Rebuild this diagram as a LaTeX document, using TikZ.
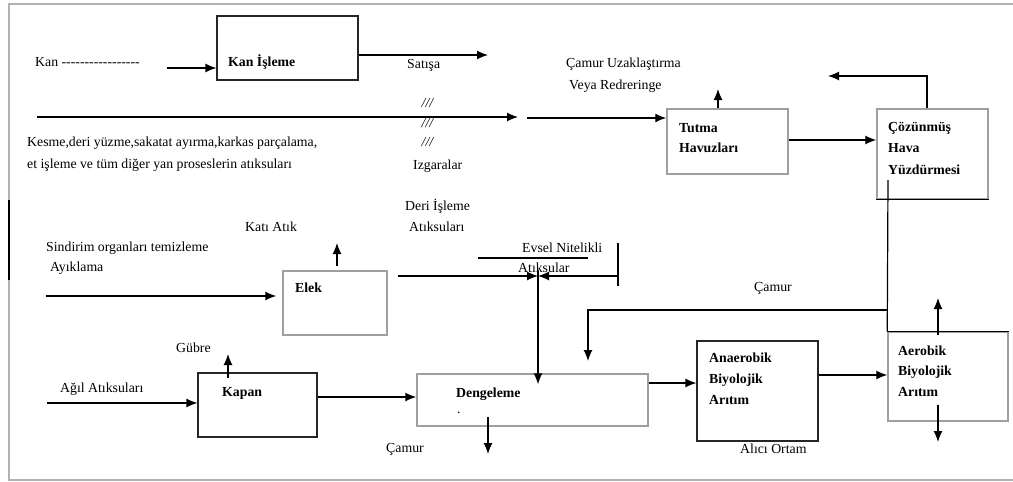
\documentclass[tikz,border=0pt]{standalone}
\usepackage{fontspec}
\setmainfont{Liberation Serif}
\usetikzlibrary{arrows.meta}
\begin{document}
\begin{tikzpicture}[x=1pt,y=-1pt,
  arr/.style={line width=1.2pt,-{Latex[length=11pt,width=9pt]}},
  ln/.style={line width=1.2pt},
  dbox/.style={draw=black!85,line width=1.2pt,inner sep=0pt},
  gbox/.style={draw=gray!75,line width=1.5pt,inner sep=0pt},
  txt/.style={anchor=west,inner sep=0pt,font=\fontsize{13.8}{16}\selectfont},
  btxt/.style={anchor=west,inner sep=0pt,font=\fontsize{13.8}{16}\selectfont\bfseries},
  frame/.style={draw=gray!60,line width=2pt}]
\useasboundingbox (0,0) rectangle (1013,482);
% frame
\draw[frame] (1013,4) -- (9,4) -- (9,480) -- (1013,480);
\draw[line width=1.2pt] (9,200) -- (9,280);
% boxes
\node[dbox,minimum width=141pt,minimum height=64pt] (kanb) at (287.5,48) {};
\node[gbox,minimum width=121pt,minimum height=65pt] (tutma) at (727.5,141.5) {};
\node[gbox,minimum width=111pt,minimum height=90pt] (cozun) at (932.5,154) {};
\node[gbox,minimum width=104pt,minimum height=64pt] (elek) at (335,303) {};
\node[dbox,minimum width=119pt,minimum height=64pt] (kapan) at (257.5,405) {};
\node[gbox,minimum width=231pt,minimum height=52pt] (deng) at (532.5,400) {};
\node[dbox,minimum width=121pt,minimum height=100pt] (anae) at (757.5,391) {};
\node[gbox,minimum width=120pt,minimum height=89pt] (aero) at (948,376.5) {};
\draw[ln] (cozun.south west) -- (cozun.south east);
\draw[ln] (aero.north west) -- (aero.north east);
% texts
\node[txt] (tkan) at (35,62) {Kan -{}-{}-{}-{}-{}-{}-{}-{}-{}-{}-{}-{}-{}-{}-{}-{}-};
\node[btxt] (tkanb) at (228,62) {Kan İşleme};
\node[txt] (tsat) at (407,65) {Satışa};
\node[txt,anchor=center] (s1) at (428,103) {\textit{///}};
\node[txt,anchor=center] (s2) at (428,123) {\textit{///}};
\node[txt,anchor=center] (s3) at (428,142) {\textit{///}};
\node[txt] (tizg) at (413,166) {Izgaralar};
\node[txt] (tkes1) at (27,143) {Kesme,deri yüzme,sakatat ayırma,karkas parçalama,};
\node[txt] (tkes2) at (27,165) {et işleme ve tüm diğer yan proseslerin atıksuları};
\node[txt] (tcam1) at (566,64) {Çamur Uzaklaştırma};
\node[txt] (tcam2) at (569,86) {Veya Redreringe};
\node[btxt] (ttut1) at (679,128) {Tutma};
\node[btxt] (ttut2) at (679,148) {Havuzları};
\node[btxt] (tcoz1) at (888,128) {Çözünmüş};
\node[btxt] (tcoz2) at (888,148) {Hava};
\node[btxt] (tcoz3) at (888,170) {Yüzdürmesi};
\node[txt] (tderi1) at (405,206) {Deri İşleme};
\node[txt] (tderi2) at (409,227) {Atıksuları};
\node[txt] (tkati) at (245,227) {Katı Atık};
\node[txt] (tsin1) at (46,248) {Sindirim organları temizleme};
\node[txt] (tsin2) at (50,268) {Ayıklama};
\node[btxt] (telek) at (295,288) {Elek};
\node[txt] (tevs1) at (522,248) {Evsel Nitelikli};
\node[txt] (tevs2) at (518,268) {Atıksular};
\node[txt] (tcamr) at (754,288) {Çamur};
\node[txt] (tgub) at (176,348) {Gübre};
\node[txt] (tagil) at (60,389) {Ağıl Atıksuları};
\node[btxt] (tkap) at (222,393) {Kapan};
\node[btxt] (tden) at (456,394) {Dengeleme};
\node[txt] (tdot) at (457,413) {.};
\node[txt] (tcamd) at (386,449) {Çamur};
\node[btxt] (tan1) at (709,358) {Anaerobik};
\node[btxt] (tan2) at (709,380) {Biyolojik};
\node[btxt] (tan3) at (709,400) {Arıtım};
\node[btxt] (tae1) at (898,351) {Aerobik};
\node[btxt] (tae2) at (898,372) {Biyolojik};
\node[btxt] (tae3) at (898,392) {Arıtım};
\node[txt] (talici) at (740,449) {Alıcı Ortam};
% coordinates
\coordinate (kanin) at (167,68);
\coordinate (satis) at (488,55);
\coordinate (k1) at (37,117);
\coordinate (k2) at (518,117);
\coordinate (k3) at (527,118);
\coordinate (tup) at (718,89);
\coordinate (ty) at (0,140);
\coordinate (cup) at (927,76);
\coordinate (cleft) at (828,76);
\coordinate (cz1) at (888,180);
\coordinate (cz2) at (888,310);
\coordinate (cz3) at (588,361);
\coordinate (ayin) at (46,296);
\coordinate (katup) at (337,243);
\coordinate (ey) at (0,276);
\coordinate (jn) at (538,276);
\coordinate (ev) at (618,276);
\coordinate (evt) at (618,243);
\coordinate (evb) at (618,286);
\coordinate (u1) at (478,258);
\coordinate (u2) at (588,258);
\coordinate (vtop) at (538,270);
\coordinate (dstart) at (488,417);
\coordinate (dbot) at (488,454);
\coordinate (gub) at (228,354);
\coordinate (agin) at (47,403);
\coordinate (kd) at (0,397);
\coordinate (da) at (0,383);
\coordinate (aa) at (0,375);
\coordinate (aer) at (938,298);
\coordinate (aerd) at (938,442);
% connectors
\draw[arr] (kanin) -- (kanin -| kanb.west);
\draw[arr] (satis -| kanb.east) -- (satis);
\draw[arr] (k1) -- (k2);
\draw[arr] (k3) -- (k3 -| tutma.west);
\draw[arr] (tup |- tutma.north) -- (tup);
\draw[arr] (ty -| tutma.east) -- (ty -| cozun.west);
\draw[arr] (cup |- cozun.north) -- (cup) -- (cleft);
\draw[ln] (cz1) -- (aero.north west);
\draw[arr] (cz2) -| (cz3);
\draw[arr,shorten >=6pt] (ayin) -- (ayin -| elek.west);
\draw[arr,shorten <=4pt] (katup |- elek.north) -- (katup);
\draw[arr,shorten <=10pt] (ey -| elek.east) -- (jn);
\draw[arr] (ev) -- (jn);
\draw[ln] (evt) -- (evb);
\draw[ln] (u1) -- (u2);
\draw[arr,shorten >=-11pt] (vtop) -- (vtop |- deng.north);
\draw[arr] (dstart) -- (dbot);
\draw[arr,shorten <=-6pt] (gub |- kapan.north) -- (gub);
\draw[arr] (agin) -- (agin -| kapan.west);
\draw[arr] (kd -| kapan.east) -- (kd -| deng.west);
\draw[arr] (da -| deng.east) -- (da -| anae.west);
\draw[arr] (aa -| anae.east) -- (aa -| aero.west);
\draw[arr,shorten <=-4pt] (aer |- aero.north) -- (aer);
\draw[arr,shorten <=-17pt] (aerd |- aero.south) -- (aerd);
\end{tikzpicture}
\end{document}
